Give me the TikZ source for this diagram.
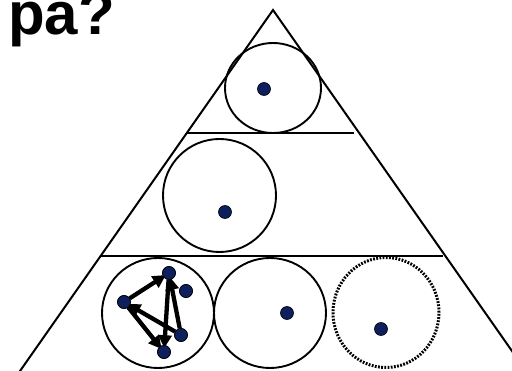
\documentclass[tikz,border=0pt]{standalone}
\usepackage{fontspec}
\setmainfont{Liberation Sans}
\usetikzlibrary{arrows.meta,shapes.geometric}
\definecolor{dotblue}{HTML}{0D1F5C}
\tikzset{
  ring/.style={draw=black, line width=1.9pt, ellipse, inner sep=0pt},
  dotnode/.style={circle, draw=black, line width=0.6pt, fill=dotblue, minimum size=13pt, inner sep=0pt},
  edge/.style={draw=black, line width=2pt},
  arr/.style={line width=4.3pt, -{Triangle[length=13pt,width=13pt]}, shorten >=-3pt}
}
\begin{document}
\begin{tikzpicture}[x=1pt,y=-1pt]
\useasboundingbox (0,0) rectangle (512,371);
\clip (0,0) rectangle (512,371);
% title
\node[anchor=base west, inner sep=0pt, font=\fontsize{60}{60}\selectfont\bfseries] (title) at (8,35) {pa?};
% triangle
\coordinate (apex) at (273,10);
\coordinate (bl) at (13,381);
\coordinate (br) at (533,381);
\draw[edge, line join=miter] (bl) -- (apex) -- (br);
\coordinate (h1l) at (187,133);
\coordinate (h1r) at (354,133);
\coordinate (h2l) at (101,256);
\coordinate (h2r) at (443,256);
\draw[edge] (h1l) -- (h1r);
\draw[edge] (h2l) -- (h2r);
% rings
\node[ring, minimum width=96pt, minimum height=90pt] (r1) at (273,88) {};
\node[ring, minimum width=113pt, minimum height=113pt] (r2) at (219.5,195.5) {};
\node[ring, minimum width=112pt, minimum height=110pt] (r3) at (158,313) {};
\node[ring, minimum width=112pt, minimum height=110pt] (r4) at (270,313) {};
\node[ellipse, draw=black, line width=3pt, dash pattern=on 1.8pt off 1.4pt, inner sep=0pt, minimum width=106pt, minimum height=110pt] (r5) at (386,312.5) {};
% single dots
\node[dotnode] (p1) at (264,89) {};
\node[dotnode] (p2) at (225,212) {};
\node[dotnode] (p4) at (287,313) {};
\node[dotnode] (p5) at (381,329) {};
% graph dots
\node[dotnode] (a) at (169,273) {};
\node[dotnode] (b) at (186,291) {};
\node[dotnode] (c) at (124,302) {};
\node[dotnode] (d) at (181,335) {};
\node[dotnode] (e) at (164,352) {};
\draw[arr] (c) -- (a);
\draw[arr] (a) -- (e);
\draw[arr] (c) -- (e);
\draw[arr] (d) -- (c);
\draw[arr] (d) -- (a);
\node[dotnode] at (a) {};
\node[dotnode] at (b) {};
\node[dotnode] at (c) {};
\node[dotnode] at (d) {};
\node[dotnode] at (e) {};
\end{tikzpicture}
\end{document}
